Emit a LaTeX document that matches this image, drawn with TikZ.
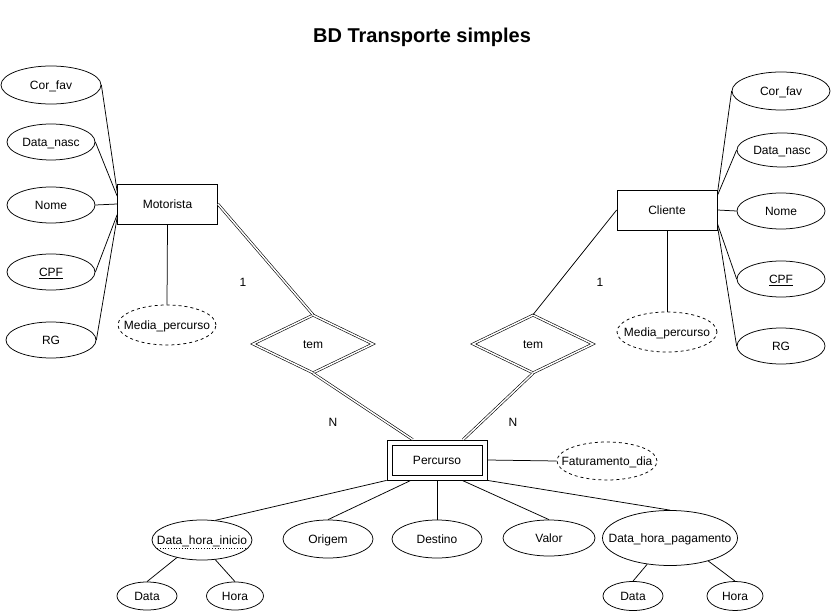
\documentclass[tikz,border=0pt]{standalone}
\usepackage{fontspec}
\setmainfont{Liberation Sans}
\usetikzlibrary{shapes.geometric,calc}
\newcommand{\zt}[1]{\makebox[0pt]{#1}}
\begin{document}
\begin{tikzpicture}[x=1pt,y=-1pt,
  every node/.style={font=\fontsize{12}{14}\selectfont, inner sep=0pt, text height=9pt, text depth=0pt},
  ent/.style={rectangle,draw,minimum width=100pt,minimum height=40pt,line width=0.75pt},
  attr/.style={ellipse,draw,line width=0.75pt},
  derived/.style={attr,dashed},
  rel/.style={diamond,draw,double,double distance=1.5pt,line width=0.6pt,minimum width=120pt,minimum height=58pt},
  conn/.style={line width=0.75pt},
  dconn/.style={double,double distance=1.5pt,line width=0.6pt},
  lbl/.style={text=black}
]
\useasboundingbox[fill=white] (0,0) rectangle (832,612);

\node[anchor=base] (title) at (422,43) {\fontsize{20}{24}\selectfont\bfseries BD Transporte simples};

% Motorista side
\node[ent] (mot) at (167.5,204) {Motorista};
\node[attr,minimum width=100pt,minimum height=38pt] (corL) at (51,85) {\zt{Cor\_fav}};
\node[attr,minimum width=88pt,minimum height=36pt] (dnL) at (51,142) {\zt{Data\_nasc}};
\node[attr,minimum width=88pt,minimum height=36pt] (nomeL) at (51,205) {\zt{Nome}};
\node[attr,minimum width=88pt,minimum height=36pt] (cpfL) at (51,272) {\zt{\underline{CPF}}};
\node[attr,minimum width=90pt,minimum height=36pt] (rgL) at (51,340) {\zt{RG}};
\node[derived,minimum width=98pt,minimum height=40pt] (medL) at (167,325) {\zt{Media\_percurso}};

% Cliente side
\node[ent] (cli) at (667,210) {Cliente};
\node[attr,minimum width=98pt,minimum height=38pt] (corR) at (781,91) {\zt{Cor\_fav}};
\node[attr,minimum width=90pt,minimum height=34pt] (dnR) at (782,150) {\zt{Data\_nasc}};
\node[attr,minimum width=88pt,minimum height=36pt] (nomeR) at (781,211) {\zt{Nome}};
\node[attr,minimum width=88pt,minimum height=36pt] (cpfR) at (781,279) {\zt{\underline{CPF}}};
\node[attr,minimum width=88pt,minimum height=36pt] (rgR) at (781,346) {\zt{RG}};
\node[derived,minimum width=100pt,minimum height=40pt] (medR) at (667,332) {\zt{Media\_percurso}};

% relationships
\node[rel] (tem1) at (313,344) {tem};
\node[rel] (tem2) at (533,344) {tem};

% Percurso (weak entity)
\node[ent] (perc) at (437,460) {Percurso};
\node[draw,line width=0.75pt,minimum width=90pt,minimum height=30pt] (perci) at (perc.center) {};
\node[derived,minimum width=100pt,minimum height=38pt] (fat) at (607,461) {\zt{Faturamento\_dia}};

% bottom attributes
\node[attr,minimum width=100pt,minimum height=40pt] (dhi) at (202,540) {\zt{Data\_hora\_inicio}};
\node[attr,minimum width=90pt,minimum height=38pt] (orig) at (328,539) {\zt{Origem}};
\node[attr,minimum width=90pt,minimum height=38pt] (dest) at (437,539) {\zt{Destino}};
\node[attr,minimum width=92pt,minimum height=36pt] (valor) at (549,538) {\zt{Valor}};
\node[attr,minimum width=135pt,minimum height=55pt] (dhp) at (670,538) {\zt{Data\_hora\_pagamento}};
\node[attr,minimum width=60pt,minimum height=28pt] (data1) at (147,596) {\zt{Data}};
\node[attr,minimum width=57pt,minimum height=28pt] (hora1) at (235,596) {\zt{Hora}};
\node[attr,minimum width=60pt,minimum height=29pt] (data2) at (633,596) {\zt{Data}};
\node[attr,minimum width=56pt,minimum height=29pt] (hora2) at (735,596) {\zt{Hora}};

% dotted underline (partial key)
\draw[dotted,line width=0.75pt] ($(dhi.center)+(-45,8)$) -- ($(dhi.center)+(44,8)$);

% cardinality labels
\node[lbl] (c1) at (243,282) {1};
\node[lbl] (c2) at (600,282) {1};
\node[lbl] (n1) at (333,422) {N};
\node[lbl] (n2) at (513,422) {N};

% connectors Motorista
\draw[conn] (corL.east) -- (mot.166.6);
\draw[conn] (dnL.east) -- (mot.171);
\draw[conn] (nomeL.east) -- (mot.west);
\draw[conn] (cpfL.east) -- (mot.192);
\draw[conn] (rgL.east) -- (mot.195.5);
\draw[conn] (mot.south) -- (medL.north);

% connectors Cliente
\draw[conn] (cli.18.8) -- (corR.west);
\draw[conn] (cli.16.7) -- (dnR.west);
\draw[conn] (cli.east) -- (nomeR.west);
\draw[conn] (cli.345.4) -- (cpfR.west);
\draw[conn] (cli.343.3) -- (rgR.west);
\draw[conn] (cli.south) -- (medR.north);

% relationships
\draw[dconn] (mot.east) -- (tem1.north);
\draw[dconn] (tem1.south) -- (perc.140.2);
\draw[dconn] (tem2.south) -- (perc.38.7);
\draw[conn] (tem2.north) -- (cli.west);

% Percurso attributes
\draw[conn] (perc.east) -- (fat.west);
\draw[conn] (perc.south west) -- (dhi.56);
\draw[conn] (perc.218.7) -- (orig.north);
\draw[conn] (perc.south) -- (dest.north);
\draw[conn] (perc.321.9) -- (valor.north);
\draw[conn] (perc.south east) -- (dhp.north);
\draw[conn] (dhi.215) -- (data1.north);
\draw[conn] (dhi.304) -- (hora1.north);
\draw[conn] (dhp.229.8) -- (data2.north);
\draw[conn] (dhp.329) -- (hora2.north);
\end{tikzpicture}
\end{document}
